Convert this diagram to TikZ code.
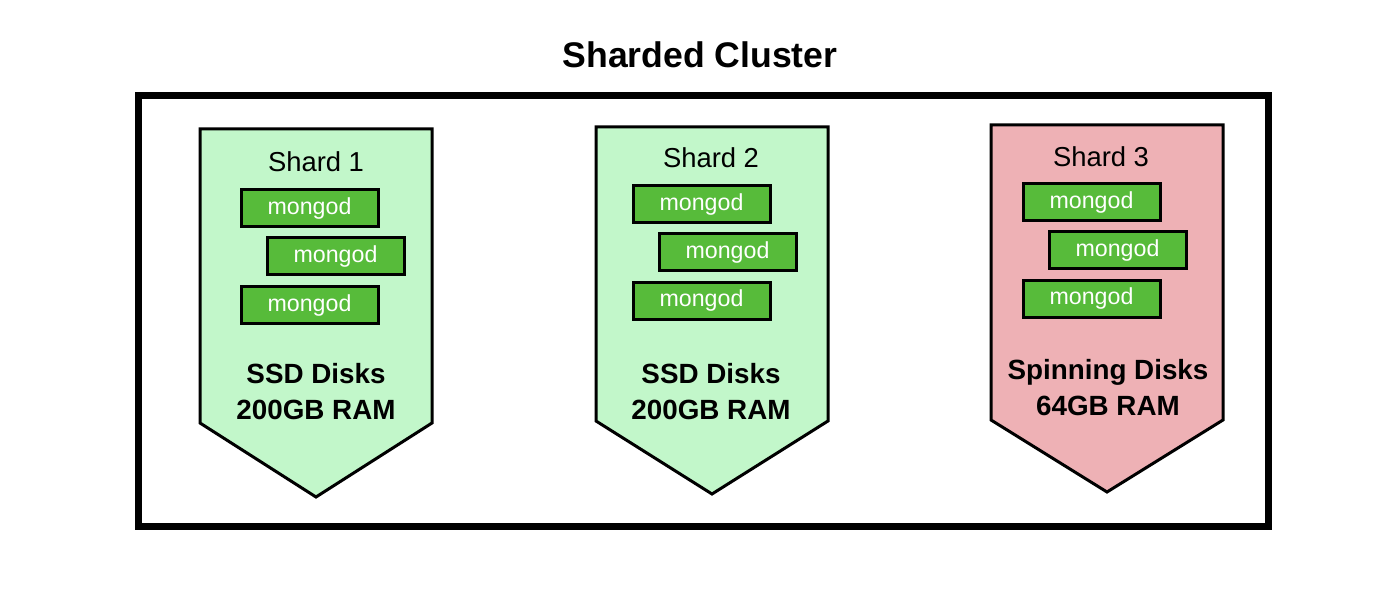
\documentclass[tikz,border=0pt]{standalone}
\usepackage{fontspec}
\setmainfont{Liberation Sans}
\definecolor{ssdgreen}{HTML}{C2F7CA}
\definecolor{spinpink}{HTML}{EEB1B5}
\definecolor{mongogreen}{HTML}{57BB3A}
\begin{document}
\begin{tikzpicture}[x=0.5pt, y=-0.5pt,
  shard/.style={line width=1.5pt, line join=miter},
  mongod/.style={draw, line width=1.5pt, fill=mongogreen, text=white, minimum width=68.5pt, minimum height=18.5pt, inner sep=0pt, font=\fontsize{11.6}{13}\selectfont},
  shardname/.style={font=\fontsize{13.7}{16}\selectfont},
  hw/.style={font=\bfseries\fontsize{13.9}{18}\selectfont, align=center}]
  \useasboundingbox (0,0) rectangle (1382,598);
  \node[font=\bfseries\fontsize{17.8}{20}\selectfont] (title) at (700,55) {Sharded Cluster};
  \draw[line width=3.5pt] (138,96) rectangle (1268,527);
  % shard 1
  \draw[shard, fill=ssdgreen] (200,129) -- (432,129) -- (432,423) -- (316,497) -- (200,423) -- cycle;
  \node[shardname] (s1) at (316,162) {Shard 1};
  \node[mongod] (s1a) at (309.5,208.5) {mongod};
  \node[mongod] (s1b) at (335.5,256.5) {mongod};
  \node[mongod] (s1c) at (309.5,305.5) {mongod};
  \node[hw] (s1hw) at (316,392) {SSD Disks\\200GB RAM};
  % shard 2
  \draw[shard, fill=ssdgreen] (596,127) -- (828,127) -- (828,421) -- (712,494) -- (596,421) -- cycle;
  \node[shardname] (s2) at (711,158) {Shard 2};
  \node[mongod] (s2a) at (701.5,204.5) {mongod};
  \node[mongod] (s2b) at (727.5,252.5) {mongod};
  \node[mongod] (s2c) at (701.5,301) {mongod};
  \node[hw] (s2hw) at (711,392) {SSD Disks\\200GB RAM};
  % shard 3
  \draw[shard, fill=spinpink] (991,125) -- (1223,125) -- (1223,420) -- (1107,492) -- (991,420) -- cycle;
  \node[shardname] (s3) at (1101,157) {Shard 3};
  \node[mongod] (s3a) at (1091.5,202.5) {mongod};
  \node[mongod] (s3b) at (1117.5,250.5) {mongod};
  \node[mongod] (s3c) at (1091.5,299) {mongod};
  \node[hw] (s3hw) at (1108,388) {Spinning Disks\\64GB RAM};
\end{tikzpicture}
\end{document}
